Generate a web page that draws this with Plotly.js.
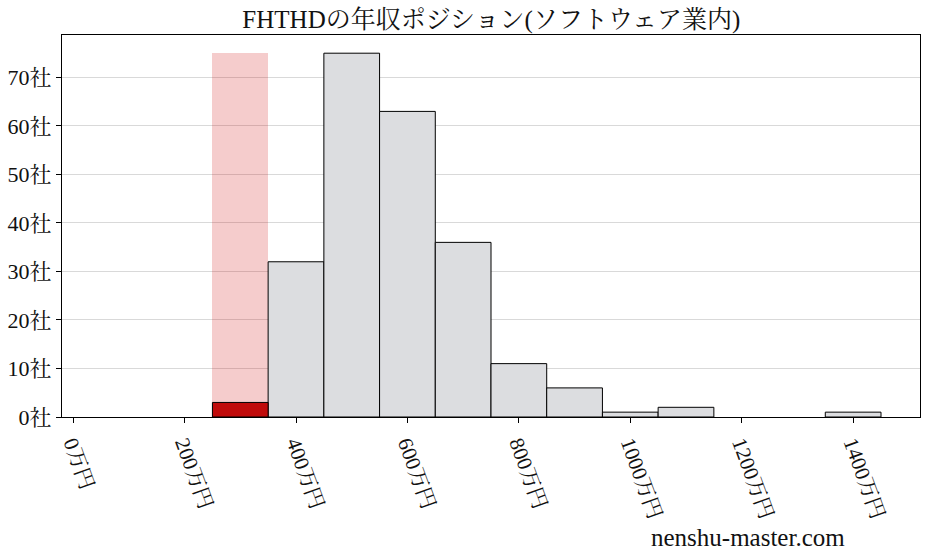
<!DOCTYPE html>
<html>
<head>
<meta charset="utf-8">
<script src="https://cdn.plot.ly/plotly-3.0.1.min.js"></script>
<style>
  html, body { margin: 0; padding: 0; background: #fff; }
  #chart { width: 927px; height: 557px; }
</style>
</head>
<body>
<div id="chart"></div>
<script>
// bin centres (万円), bin width 100
const binCenters = [300, 400, 500, 600, 700, 800, 900, 1000, 1100, 1200, 1300, 1400];
const counts = [3, 32, 75, 63, 36, 11, 6, 1, 2, 0, 0, 1];
const highlightIndex = 0;   // FHTHD's bin
const xTicks = [0, 200, 400, 600, 800, 1000, 1200, 1400];
const yTicks = [0, 10, 20, 30, 40, 50, 60, 70];
const titleText = 'FHTHDの年収ポジション(ソフトウェア業内)';
const watermark = 'nenshu-master.com';

const FONT = 'Liberation Serif, DejaVu Serif, Noto Serif CJK JP, Noto Sans CJK JP, serif';
const binWidth = 100;
const maxCount = Math.max(...counts);

// empty bins draw nothing, like matplotlib
const keep = binCenters.map((_, i) => i !== highlightIndex && counts[i] > 0);
const greyX = binCenters.filter((_, i) => keep[i]);
const greyY = counts.filter((_, i) => keep[i]);

var data = [
    {
        type: 'bar',
        x: [binCenters[highlightIndex]],
        y: [maxCount],
        width: binWidth,
        marker: { color: 'rgba(204,0,0,0.2)', line: { width: 0 } },
        hoverinfo: 'skip',
        showlegend: false
    },
    {
        type: 'bar',
        x: greyX,
        y: greyY,
        width: binWidth,
        marker: { color: '#dcdde0', line: { color: '#000', width: 1 } },
        showlegend: false
    },
    {
        type: 'bar',
        x: [binCenters[highlightIndex]],
        y: [counts[highlightIndex]],
        width: binWidth,
        marker: { color: '#c00b0b', line: { color: '#000', width: 1 } },
        showlegend: false
    }
];

const layout = {
    width: 927,
    height: 557,
    margin: { l: 62, r: 7, t: 35, b: 140 },
    paper_bgcolor: '#fff',
    plot_bgcolor: '#fff',
    barmode: 'overlay',
    bargap: 0,
    font: { family: FONT, color: '#111' },
    title: {
        text: titleText,
        font: { family: FONT, size: 25, color: '#111' },
        x: 0.53,
        xanchor: 'center',
        y: 0.965,
        yanchor: 'middle'
    },
    xaxis: {
        range: [-20, 1520],
        tickvals: xTicks,
        ticktext: xTicks.map(v => v + '万円'),
        tickangle: 70,
        tickfont: { family: FONT, size: 21 },
        ticks: 'outside',
        ticklen: 5,
        tickcolor: '#000',
        showgrid: false,
        zeroline: false,
        showline: true,
        linecolor: '#000',
        linewidth: 1,
        mirror: true
    },
    yaxis: {
        range: [0, maxCount * 1.05],
        tickvals: yTicks,
        ticktext: yTicks.map(v => v + '社'),
        tickfont: { family: FONT, size: 22 },
        ticks: 'outside',
        ticklen: 5,
        tickcolor: '#000',
        showgrid: true,
        gridcolor: '#d9d9d9',
        gridwidth: 1,
        zeroline: false,
        showline: true,
        linecolor: '#000',
        linewidth: 1,
        mirror: true
    },
    annotations: [
        {
            text: watermark,
            xref: 'paper',
            yref: 'paper',
            x: 0.915,
            y: -0.315,
            xanchor: 'right',
            yanchor: 'middle',
            showarrow: false,
            font: { family: FONT, size: 25, color: '#111' }
        }
    ]
};

Plotly.newPlot('chart', data, layout, { displayModeBar: false, staticPlot: true });
</script>
</body>
</html>
